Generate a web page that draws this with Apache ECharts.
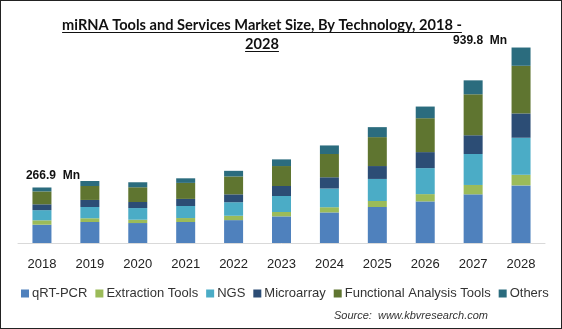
<!DOCTYPE html>
<html>
<head>
<meta charset="utf-8">
<script src="https://cdn.jsdelivr.net/npm/echarts@6/dist/echarts.min.js"></script>
<style>
html,body{margin:0;padding:0;background:#fff;}
#frame{position:absolute;left:0;top:0;width:560px;height:327px;border:1px solid #222;}
#chart{position:absolute;left:0;top:0;width:562px;height:329px;}
</style>
</head>
<body>
<div id="frame"></div>
<div id="chart"></div>
<script>
const years = ['2018','2019','2020','2021','2022','2023','2024','2025','2026','2027','2028'];
const qrtPcr      = [88, 101, 96, 101, 110, 128, 147, 173, 200, 234, 277];
const extraction  = [21, 18, 16, 19, 21, 21, 25, 29, 35, 45, 51];
const ngs         = [49, 54, 56, 58, 65, 77, 90, 106, 125, 149, 178];
const microarray  = [28, 34, 29, 34, 38, 48, 54, 62, 77, 90, 117];
const functional  = [62, 67, 71, 77, 86, 96, 112, 139, 163, 197, 229];
const others      = [18.9, 24, 24, 22, 27, 32, 41, 48, 56, 67, 87.8];
const seriesNames = ['qRT-PCR','Extraction Tools','NGS','Microarray','Functional Analysis Tools','Others'];
const totalLabels = {0: '266.9  Mn', 10: '939.8  Mn'};
const titleLines = ['miRNA Tools and Services Market Size, By Technology, 2018 -', '2028'];
const sourceText = 'Source:  www.kbvresearch.com';

const colors = ['#4F81BD','#9BBB59','#4BACC6','#2C4D75','#5F7530','#2B6C7E'];
const dataSets = [qrtPcr, extraction, ngs, microarray, functional, others];

const chart = echarts.init(document.getElementById('chart'), null, {renderer:'canvas'});
const series = dataSets.map((d, i) => ({
  name: seriesNames[i],
  type: 'bar',
  stack: 'total',
  barWidth: 19,
  itemStyle: {color: colors[i]},
  data: d.map((v, j) => {
    if (i === 5 && totalLabels[j] !== undefined) {
      return {
        value: v,
        label: {
          show: true,
          position: 'top',
          formatter: totalLabels[j],
          fontFamily: 'Liberation Sans',
          fontWeight: 'bold',
          fontSize: 12,
          color: '#111',
          offset: j === 0 ? [11, -1] : [-41, 4]
        }
      };
    }
    return v;
  })
}));

// title with underline
const titleFont = 'bold 14.6px Lato';
const mctx = document.createElement('canvas').getContext('2d');
mctx.font = titleFont;
const titleCx = 262;
const titleYs = [25, 44];
const titleGraphics = [];
titleLines.forEach((t, k) => {
  const w = mctx.measureText(t).width;
  titleGraphics.push({
    type: 'text', x: titleCx, y: titleYs[k],
    style: {text: t, font: titleFont, fill: '#111', textAlign: 'center', textVerticalAlign: 'middle'}
  });
  titleGraphics.push({
    type: 'line',
    shape: {x1: titleCx - w / 2, y1: titleYs[k] + 7.5, x2: titleCx + w / 2, y2: titleYs[k] + 7.5},
    style: {stroke: '#111', lineWidth: 1}
  });
});

chart.setOption({
  animation: false,
  legend: {
    data: seriesNames,
    bottom: 24,
    left: 16,
    itemWidth: 8,
    itemHeight: 8,
    itemGap: 8,
    icon: 'rect',
    textStyle: {fontFamily: 'Liberation Sans', fontSize: 13, color: '#333', padding: [0,0,0,-2]}
  },
  graphic: titleGraphics.concat([{
    type: 'text',
    right: 74,
    bottom: 8,
    style: {text: sourceText, font: 'italic 11px "Liberation Sans"', fill: '#333'}
  }]),
  grid: {left: 18, right: 17, top: 35, bottom: 86},
  xAxis: {
    type: 'category',
    data: years,
    axisLine: {lineStyle: {color: '#d9d9d9'}},
    axisTick: {show: false},
    axisLabel: {fontFamily: 'Liberation Sans', fontSize: 13, color: '#222', margin: 15}
  },
  yAxis: {
    type: 'value',
    min: 0,
    max: 1000,
    show: false,
    splitLine: {show: false}
  },
  series: series
});
</script>
</body>
</html>
